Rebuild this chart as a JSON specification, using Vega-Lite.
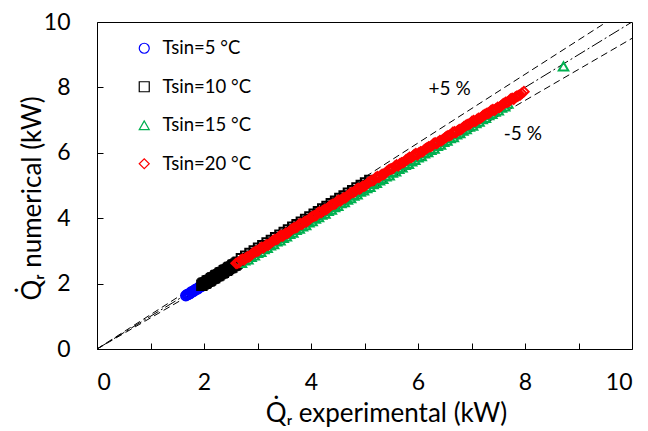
{
  "$schema": "https://vega.github.io/schema/vega-lite/v6.json",
  "width": 535,
  "height": 327,
  "autosize": {"type": "none"},
  "padding": {"left": 97, "top": 22, "right": 16, "bottom": 82},
  "background": "white",
  "config": {
    "font": "Lato",
    "view": {"stroke": "black", "strokeWidth": 1},
    "axis": {"grid": false, "domain": false, "tickColor": "black", "labelColor": "black", "titleColor": "black", "labelFont": "Lato", "titleFont": "Lato", "labelFontSize": 23, "titleFontSize": 26, "titleFontWeight": "normal", "tickSize": -6}
  },
  "datasets": {
    "pts": [
      {"s":"Tsin=5 °C","x":1.66,"y":1.63},{"s":"Tsin=5 °C","x":1.70,"y":1.67},{"s":"Tsin=5 °C","x":1.74,"y":1.70},{"s":"Tsin=5 °C","x":1.78,"y":1.75},{"s":"Tsin=5 °C","x":1.82,"y":1.79},{"s":"Tsin=5 °C","x":1.86,"y":1.83},{"s":"Tsin=5 °C","x":1.90,"y":1.87},{"s":"Tsin=5 °C","x":1.94,"y":1.91},{"s":"Tsin=5 °C","x":1.98,"y":1.95},
      {"s":"Tsin=5 °C","x":1.68,"y":1.66},{"s":"Tsin=5 °C","x":1.72,"y":1.68},{"s":"Tsin=5 °C","x":1.76,"y":1.74},{"s":"Tsin=5 °C","x":1.80,"y":1.76},{"s":"Tsin=5 °C","x":1.84,"y":1.82},{"s":"Tsin=5 °C","x":1.88,"y":1.84},{"s":"Tsin=5 °C","x":1.92,"y":1.90},{"s":"Tsin=5 °C","x":1.96,"y":1.92},
      {"s":"Tsin=10 °C","x":1.96,"y":1.95},{"s":"Tsin=10 °C","x":2.00,"y":2.01},{"s":"Tsin=10 °C","x":2.04,"y":2.03},{"s":"Tsin=10 °C","x":2.08,"y":2.09},{"s":"Tsin=10 °C","x":2.12,"y":2.11},{"s":"Tsin=10 °C","x":2.16,"y":2.17},{"s":"Tsin=10 °C","x":2.20,"y":2.19},{"s":"Tsin=10 °C","x":2.24,"y":2.25},{"s":"Tsin=10 °C","x":2.28,"y":2.27},{"s":"Tsin=10 °C","x":2.32,"y":2.33},{"s":"Tsin=10 °C","x":2.36,"y":2.35},{"s":"Tsin=10 °C","x":2.40,"y":2.41},{"s":"Tsin=10 °C","x":2.44,"y":2.43},{"s":"Tsin=10 °C","x":2.48,"y":2.49},{"s":"Tsin=10 °C","x":2.52,"y":2.51},{"s":"Tsin=10 °C","x":2.56,"y":2.57},{"s":"Tsin=10 °C","x":2.60,"y":2.60},{"s":"Tsin=10 °C","x":2.64,"y":2.65},
      {"s":"Tsin=10 °C","x":1.98,"y":1.99},{"s":"Tsin=10 °C","x":2.02,"y":2.01},{"s":"Tsin=10 °C","x":2.06,"y":2.07},{"s":"Tsin=10 °C","x":2.10,"y":2.09},{"s":"Tsin=10 °C","x":2.14,"y":2.15},{"s":"Tsin=10 °C","x":2.18,"y":2.17},{"s":"Tsin=10 °C","x":2.22,"y":2.23},{"s":"Tsin=10 °C","x":2.26,"y":2.25},{"s":"Tsin=10 °C","x":2.30,"y":2.31},{"s":"Tsin=10 °C","x":2.34,"y":2.33},{"s":"Tsin=10 °C","x":2.38,"y":2.39},{"s":"Tsin=10 °C","x":2.42,"y":2.41},{"s":"Tsin=10 °C","x":2.46,"y":2.47},{"s":"Tsin=10 °C","x":2.50,"y":2.49},{"s":"Tsin=10 °C","x":2.54,"y":2.55},{"s":"Tsin=10 °C","x":2.58,"y":2.57},{"s":"Tsin=10 °C","x":2.62,"y":2.63},
      {"s":"Tsin=10 °C","x":2.70,"y":2.76},{"s":"Tsin=10 °C","x":2.78,"y":2.84},{"s":"Tsin=10 °C","x":2.86,"y":2.92},{"s":"Tsin=10 °C","x":2.94,"y":3.00},{"s":"Tsin=10 °C","x":3.02,"y":3.08},{"s":"Tsin=10 °C","x":3.10,"y":3.16},{"s":"Tsin=10 °C","x":3.18,"y":3.24},{"s":"Tsin=10 °C","x":3.26,"y":3.32},{"s":"Tsin=10 °C","x":3.34,"y":3.40},{"s":"Tsin=10 °C","x":3.42,"y":3.48},{"s":"Tsin=10 °C","x":3.50,"y":3.56},{"s":"Tsin=10 °C","x":3.58,"y":3.64},{"s":"Tsin=10 °C","x":3.66,"y":3.72},{"s":"Tsin=10 °C","x":3.74,"y":3.80},{"s":"Tsin=10 °C","x":3.82,"y":3.88},{"s":"Tsin=10 °C","x":3.90,"y":3.96},{"s":"Tsin=10 °C","x":3.98,"y":4.04},{"s":"Tsin=10 °C","x":4.06,"y":4.12},{"s":"Tsin=10 °C","x":4.14,"y":4.20},{"s":"Tsin=10 °C","x":4.22,"y":4.28},{"s":"Tsin=10 °C","x":4.30,"y":4.36},{"s":"Tsin=10 °C","x":4.38,"y":4.44},{"s":"Tsin=10 °C","x":4.46,"y":4.52},{"s":"Tsin=10 °C","x":4.54,"y":4.60},{"s":"Tsin=10 °C","x":4.62,"y":4.68},{"s":"Tsin=10 °C","x":4.70,"y":4.76},{"s":"Tsin=10 °C","x":4.78,"y":4.84},{"s":"Tsin=10 °C","x":4.86,"y":4.92},{"s":"Tsin=10 °C","x":4.94,"y":5.00},{"s":"Tsin=10 °C","x":5.02,"y":5.08},{"s":"Tsin=10 °C","x":5.10,"y":5.15},
      {"s":"Tsin=15 °C","x":2.70,"y":2.63},{"s":"Tsin=15 °C","x":2.76,"y":2.71},{"s":"Tsin=15 °C","x":2.82,"y":2.74},{"s":"Tsin=15 °C","x":2.88,"y":2.82},{"s":"Tsin=15 °C","x":2.94,"y":2.86},{"s":"Tsin=15 °C","x":3.00,"y":2.94},{"s":"Tsin=15 °C","x":3.06,"y":2.97},{"s":"Tsin=15 °C","x":3.12,"y":3.05},{"s":"Tsin=15 °C","x":3.18,"y":3.09},{"s":"Tsin=15 °C","x":3.24,"y":3.17},{"s":"Tsin=15 °C","x":3.30,"y":3.21},{"s":"Tsin=15 °C","x":3.36,"y":3.29},{"s":"Tsin=15 °C","x":3.42,"y":3.32},{"s":"Tsin=15 °C","x":3.48,"y":3.40},{"s":"Tsin=15 °C","x":3.54,"y":3.44},{"s":"Tsin=15 °C","x":3.60,"y":3.52},{"s":"Tsin=15 °C","x":3.66,"y":3.56},{"s":"Tsin=15 °C","x":3.72,"y":3.64},{"s":"Tsin=15 °C","x":3.78,"y":3.68},{"s":"Tsin=15 °C","x":3.84,"y":3.75},{"s":"Tsin=15 °C","x":3.90,"y":3.79},{"s":"Tsin=15 °C","x":3.96,"y":3.87},{"s":"Tsin=15 °C","x":4.02,"y":3.91},{"s":"Tsin=15 °C","x":4.08,"y":3.99},{"s":"Tsin=15 °C","x":4.14,"y":4.03},{"s":"Tsin=15 °C","x":4.20,"y":4.11},{"s":"Tsin=15 °C","x":4.26,"y":4.14},{"s":"Tsin=15 °C","x":4.32,"y":4.22},{"s":"Tsin=15 °C","x":4.38,"y":4.26},{"s":"Tsin=15 °C","x":4.44,"y":4.34},{"s":"Tsin=15 °C","x":4.50,"y":4.38},{"s":"Tsin=15 °C","x":4.56,"y":4.46},{"s":"Tsin=15 °C","x":4.62,"y":4.49},{"s":"Tsin=15 °C","x":4.68,"y":4.57},{"s":"Tsin=15 °C","x":4.74,"y":4.61},{"s":"Tsin=15 °C","x":4.80,"y":4.69},{"s":"Tsin=15 °C","x":4.86,"y":4.73},{"s":"Tsin=15 °C","x":4.92,"y":4.81},{"s":"Tsin=15 °C","x":4.98,"y":4.85},{"s":"Tsin=15 °C","x":5.04,"y":4.92},{"s":"Tsin=15 °C","x":5.10,"y":4.96},{"s":"Tsin=15 °C","x":5.16,"y":5.04},{"s":"Tsin=15 °C","x":5.22,"y":5.08},{"s":"Tsin=15 °C","x":5.28,"y":5.16},{"s":"Tsin=15 °C","x":5.34,"y":5.20},{"s":"Tsin=15 °C","x":5.40,"y":5.28},{"s":"Tsin=15 °C","x":5.46,"y":5.31},{"s":"Tsin=15 °C","x":5.52,"y":5.39},{"s":"Tsin=15 °C","x":5.58,"y":5.43},{"s":"Tsin=15 °C","x":5.64,"y":5.51},{"s":"Tsin=15 °C","x":5.70,"y":5.55},{"s":"Tsin=15 °C","x":5.76,"y":5.63},{"s":"Tsin=15 °C","x":5.82,"y":5.66},{"s":"Tsin=15 °C","x":5.88,"y":5.74},{"s":"Tsin=15 °C","x":5.94,"y":5.78},{"s":"Tsin=15 °C","x":6.00,"y":5.86},{"s":"Tsin=15 °C","x":6.06,"y":5.90},{"s":"Tsin=15 °C","x":6.12,"y":5.98},{"s":"Tsin=15 °C","x":6.18,"y":6.02},{"s":"Tsin=15 °C","x":6.24,"y":6.09},{"s":"Tsin=15 °C","x":6.30,"y":6.13},{"s":"Tsin=15 °C","x":6.36,"y":6.21},{"s":"Tsin=15 °C","x":6.42,"y":6.25},{"s":"Tsin=15 °C","x":6.48,"y":6.33},{"s":"Tsin=15 °C","x":6.54,"y":6.37},{"s":"Tsin=15 °C","x":6.60,"y":6.45},{"s":"Tsin=15 °C","x":6.66,"y":6.48},{"s":"Tsin=15 °C","x":6.72,"y":6.56},{"s":"Tsin=15 °C","x":6.78,"y":6.60},{"s":"Tsin=15 °C","x":6.84,"y":6.68},{"s":"Tsin=15 °C","x":6.90,"y":6.72},{"s":"Tsin=15 °C","x":6.96,"y":6.80},{"s":"Tsin=15 °C","x":7.02,"y":6.83},{"s":"Tsin=15 °C","x":7.08,"y":6.91},{"s":"Tsin=15 °C","x":7.14,"y":6.95},{"s":"Tsin=15 °C","x":7.20,"y":7.03},{"s":"Tsin=15 °C","x":7.26,"y":7.07},{"s":"Tsin=15 °C","x":7.32,"y":7.15},{"s":"Tsin=15 °C","x":7.38,"y":7.19},{"s":"Tsin=15 °C","x":7.44,"y":7.26},{"s":"Tsin=15 °C","x":7.50,"y":7.30},{"s":"Tsin=15 °C","x":7.56,"y":7.38},{"s":"Tsin=15 °C","x":7.62,"y":7.42},{"s":"Tsin=15 °C","x":7.68,"y":7.50},{"s":"Tsin=15 °C","x":8.72,"y":8.64},
      {"s":"Tsin=20 °C","x":2.60,"y":2.62},{"s":"Tsin=20 °C","x":2.66,"y":2.65},{"s":"Tsin=20 °C","x":2.72,"y":2.75},{"s":"Tsin=20 °C","x":2.78,"y":2.78},{"s":"Tsin=20 °C","x":2.84,"y":2.82},{"s":"Tsin=20 °C","x":2.90,"y":2.91},{"s":"Tsin=20 °C","x":2.96,"y":2.98},{"s":"Tsin=20 °C","x":3.02,"y":3.01},{"s":"Tsin=20 °C","x":3.08,"y":3.11},{"s":"Tsin=20 °C","x":3.14,"y":3.14},{"s":"Tsin=20 °C","x":3.20,"y":3.18},{"s":"Tsin=20 °C","x":3.26,"y":3.27},{"s":"Tsin=20 °C","x":3.32,"y":3.34},{"s":"Tsin=20 °C","x":3.38,"y":3.37},{"s":"Tsin=20 °C","x":3.44,"y":3.47},{"s":"Tsin=20 °C","x":3.50,"y":3.50},{"s":"Tsin=20 °C","x":3.56,"y":3.54},{"s":"Tsin=20 °C","x":3.62,"y":3.63},{"s":"Tsin=20 °C","x":3.68,"y":3.70},{"s":"Tsin=20 °C","x":3.74,"y":3.73},{"s":"Tsin=20 °C","x":3.80,"y":3.83},{"s":"Tsin=20 °C","x":3.86,"y":3.86},{"s":"Tsin=20 °C","x":3.92,"y":3.90},{"s":"Tsin=20 °C","x":3.98,"y":3.99},{"s":"Tsin=20 °C","x":4.04,"y":4.06},{"s":"Tsin=20 °C","x":4.10,"y":4.09},{"s":"Tsin=20 °C","x":4.16,"y":4.19},{"s":"Tsin=20 °C","x":4.22,"y":4.22},{"s":"Tsin=20 °C","x":4.28,"y":4.26},{"s":"Tsin=20 °C","x":4.34,"y":4.35},{"s":"Tsin=20 °C","x":4.40,"y":4.42},{"s":"Tsin=20 °C","x":4.46,"y":4.45},{"s":"Tsin=20 °C","x":4.52,"y":4.55},{"s":"Tsin=20 °C","x":4.58,"y":4.58},{"s":"Tsin=20 °C","x":4.64,"y":4.62},{"s":"Tsin=20 °C","x":4.70,"y":4.71},{"s":"Tsin=20 °C","x":4.76,"y":4.78},{"s":"Tsin=20 °C","x":4.82,"y":4.81},{"s":"Tsin=20 °C","x":4.88,"y":4.91},{"s":"Tsin=20 °C","x":4.94,"y":4.94},{"s":"Tsin=20 °C","x":5.00,"y":4.98},{"s":"Tsin=20 °C","x":5.06,"y":5.07},{"s":"Tsin=20 °C","x":5.12,"y":5.14},{"s":"Tsin=20 °C","x":5.18,"y":5.17},{"s":"Tsin=20 °C","x":5.24,"y":5.27},{"s":"Tsin=20 °C","x":5.30,"y":5.30},{"s":"Tsin=20 °C","x":5.36,"y":5.34},{"s":"Tsin=20 °C","x":5.42,"y":5.43},{"s":"Tsin=20 °C","x":5.48,"y":5.50},{"s":"Tsin=20 °C","x":5.54,"y":5.53},{"s":"Tsin=20 °C","x":5.60,"y":5.63},{"s":"Tsin=20 °C","x":5.66,"y":5.66},{"s":"Tsin=20 °C","x":5.72,"y":5.70},{"s":"Tsin=20 °C","x":5.78,"y":5.79},{"s":"Tsin=20 °C","x":5.84,"y":5.86},{"s":"Tsin=20 °C","x":5.90,"y":5.89},{"s":"Tsin=20 °C","x":5.96,"y":5.97},{"s":"Tsin=20 °C","x":6.02,"y":6.00},{"s":"Tsin=20 °C","x":6.08,"y":6.03},{"s":"Tsin=20 °C","x":6.14,"y":6.12},{"s":"Tsin=20 °C","x":6.20,"y":6.18},{"s":"Tsin=20 °C","x":6.26,"y":6.21},{"s":"Tsin=20 °C","x":6.32,"y":6.30},{"s":"Tsin=20 °C","x":6.38,"y":6.33},{"s":"Tsin=20 °C","x":6.44,"y":6.37},{"s":"Tsin=20 °C","x":6.50,"y":6.45},{"s":"Tsin=20 °C","x":6.56,"y":6.52},{"s":"Tsin=20 °C","x":6.62,"y":6.55},{"s":"Tsin=20 °C","x":6.68,"y":6.64},{"s":"Tsin=20 °C","x":6.74,"y":6.67},{"s":"Tsin=20 °C","x":6.80,"y":6.71},{"s":"Tsin=20 °C","x":6.86,"y":6.80},{"s":"Tsin=20 °C","x":6.92,"y":6.86},{"s":"Tsin=20 °C","x":6.98,"y":6.89},{"s":"Tsin=20 °C","x":7.04,"y":6.98},{"s":"Tsin=20 °C","x":7.10,"y":7.01},{"s":"Tsin=20 °C","x":7.16,"y":7.05},{"s":"Tsin=20 °C","x":7.22,"y":7.14},{"s":"Tsin=20 °C","x":7.28,"y":7.20},{"s":"Tsin=20 °C","x":7.34,"y":7.23},{"s":"Tsin=20 °C","x":7.40,"y":7.32},{"s":"Tsin=20 °C","x":7.46,"y":7.35},{"s":"Tsin=20 °C","x":7.52,"y":7.39},{"s":"Tsin=20 °C","x":7.58,"y":7.48},{"s":"Tsin=20 °C","x":7.64,"y":7.54},{"s":"Tsin=20 °C","x":7.70,"y":7.57},{"s":"Tsin=20 °C","x":7.76,"y":7.66},{"s":"Tsin=20 °C","x":7.82,"y":7.70},{"s":"Tsin=20 °C","x":7.88,"y":7.75},{"s":"Tsin=20 °C","x":7.94,"y":7.82},{"s":"Tsin=20 °C","x":7.98,"y":7.87},
      {"s":"Tsin=20 °C","x":2.63,"y":2.63},{"s":"Tsin=20 °C","x":2.69,"y":2.72},{"s":"Tsin=20 °C","x":2.75,"y":2.73},{"s":"Tsin=20 °C","x":2.81,"y":2.82},{"s":"Tsin=20 °C","x":2.87,"y":2.86},{"s":"Tsin=20 °C","x":2.93,"y":2.95},{"s":"Tsin=20 °C","x":2.99,"y":2.99},{"s":"Tsin=20 °C","x":3.05,"y":3.08},{"s":"Tsin=20 °C","x":3.11,"y":3.09},{"s":"Tsin=20 °C","x":3.17,"y":3.18},{"s":"Tsin=20 °C","x":3.23,"y":3.22},{"s":"Tsin=20 °C","x":3.29,"y":3.31},{"s":"Tsin=20 °C","x":3.35,"y":3.35},{"s":"Tsin=20 °C","x":3.41,"y":3.44},{"s":"Tsin=20 °C","x":3.47,"y":3.45},{"s":"Tsin=20 °C","x":3.53,"y":3.54},{"s":"Tsin=20 °C","x":3.59,"y":3.58},{"s":"Tsin=20 °C","x":3.65,"y":3.67},{"s":"Tsin=20 °C","x":3.71,"y":3.71},{"s":"Tsin=20 °C","x":3.77,"y":3.80},{"s":"Tsin=20 °C","x":3.83,"y":3.81},{"s":"Tsin=20 °C","x":3.89,"y":3.90},{"s":"Tsin=20 °C","x":3.95,"y":3.94},{"s":"Tsin=20 °C","x":4.01,"y":4.03},{"s":"Tsin=20 °C","x":4.07,"y":4.07},{"s":"Tsin=20 °C","x":4.13,"y":4.16},{"s":"Tsin=20 °C","x":4.19,"y":4.17},{"s":"Tsin=20 °C","x":4.25,"y":4.26},{"s":"Tsin=20 °C","x":4.31,"y":4.30},{"s":"Tsin=20 °C","x":4.37,"y":4.39},{"s":"Tsin=20 °C","x":4.43,"y":4.43},{"s":"Tsin=20 °C","x":4.49,"y":4.52},{"s":"Tsin=20 °C","x":4.55,"y":4.53},{"s":"Tsin=20 °C","x":4.61,"y":4.62},{"s":"Tsin=20 °C","x":4.67,"y":4.66},{"s":"Tsin=20 °C","x":4.73,"y":4.75},{"s":"Tsin=20 °C","x":4.79,"y":4.79},{"s":"Tsin=20 °C","x":4.85,"y":4.88},{"s":"Tsin=20 °C","x":4.91,"y":4.89},{"s":"Tsin=20 °C","x":4.97,"y":4.98},{"s":"Tsin=20 °C","x":5.03,"y":5.02},{"s":"Tsin=20 °C","x":5.09,"y":5.11},{"s":"Tsin=20 °C","x":5.15,"y":5.15},{"s":"Tsin=20 °C","x":5.21,"y":5.24},{"s":"Tsin=20 °C","x":5.27,"y":5.25},{"s":"Tsin=20 °C","x":5.33,"y":5.34},{"s":"Tsin=20 °C","x":5.39,"y":5.38},{"s":"Tsin=20 °C","x":5.45,"y":5.47},{"s":"Tsin=20 °C","x":5.51,"y":5.51},{"s":"Tsin=20 °C","x":5.57,"y":5.59},{"s":"Tsin=20 °C","x":5.63,"y":5.60},{"s":"Tsin=20 °C","x":5.69,"y":5.69},{"s":"Tsin=20 °C","x":5.75,"y":5.73},{"s":"Tsin=20 °C","x":5.81,"y":5.81},{"s":"Tsin=20 °C","x":5.87,"y":5.85},{"s":"Tsin=20 °C","x":5.93,"y":5.94},{"s":"Tsin=20 °C","x":5.99,"y":5.94},{"s":"Tsin=20 °C","x":6.05,"y":6.03},{"s":"Tsin=20 °C","x":6.11,"y":6.07},{"s":"Tsin=20 °C","x":6.17,"y":6.15},{"s":"Tsin=20 °C","x":6.23,"y":6.19},{"s":"Tsin=20 °C","x":6.29,"y":6.28},{"s":"Tsin=20 °C","x":6.35,"y":6.28},{"s":"Tsin=20 °C","x":6.41,"y":6.37},{"s":"Tsin=20 °C","x":6.47,"y":6.41},{"s":"Tsin=20 °C","x":6.53,"y":6.49},{"s":"Tsin=20 °C","x":6.59,"y":6.53},{"s":"Tsin=20 °C","x":6.65,"y":6.62},{"s":"Tsin=20 °C","x":6.71,"y":6.62},{"s":"Tsin=20 °C","x":6.77,"y":6.71},{"s":"Tsin=20 °C","x":6.83,"y":6.75},{"s":"Tsin=20 °C","x":6.89,"y":6.83},{"s":"Tsin=20 °C","x":6.95,"y":6.87},{"s":"Tsin=20 °C","x":7.01,"y":6.96},{"s":"Tsin=20 °C","x":7.07,"y":6.96},{"s":"Tsin=20 °C","x":7.13,"y":7.05},{"s":"Tsin=20 °C","x":7.19,"y":7.09},{"s":"Tsin=20 °C","x":7.25,"y":7.17},{"s":"Tsin=20 °C","x":7.31,"y":7.21},{"s":"Tsin=20 °C","x":7.37,"y":7.30},{"s":"Tsin=20 °C","x":7.43,"y":7.30},{"s":"Tsin=20 °C","x":7.49,"y":7.39},{"s":"Tsin=20 °C","x":7.55,"y":7.43},{"s":"Tsin=20 °C","x":7.61,"y":7.51},{"s":"Tsin=20 °C","x":7.67,"y":7.55},{"s":"Tsin=20 °C","x":7.73,"y":7.64},{"s":"Tsin=20 °C","x":7.79,"y":7.64},{"s":"Tsin=20 °C","x":7.85,"y":7.73},{"s":"Tsin=20 °C","x":7.91,"y":7.77}
    ],
    "lines": [
      {"l":"eq","x":0,"y":0},{"l":"eq","x":10,"y":10},
      {"l":"p5","x":0,"y":0},{"l":"p5","x":9.524,"y":10},
      {"l":"m5","x":0,"y":0},{"l":"m5","x":10,"y":9.5}
    ],
    "notes": [
      {"t":"+5 %","x":6.59,"y":7.94},
      {"t":"-5 %","x":7.96,"y":6.56}
    ]
  },
  "layer": [
    {
      "data": {"name": "lines"},
      "mark": {"type": "line", "color": "black", "strokeWidth": 1, "clip": true},
      "encoding": {
        "x": {"field": "x", "type": "quantitative", "scale": {"domain": [0, 10], "nice": false},
              "axis": {"values": [0,1,2,3,4,5,6,7,8,9,10], "labelExpr": "datum.value % 2 == 0 ? datum.label : ''", "labelPadding": 28, "title": "Q̇ᵣ experimental (kW)", "titleX": 289, "titleY": 72, "titleBaseline": "alphabetic", "titleAlign": "center"}},
        "y": {"field": "y", "type": "quantitative", "scale": {"domain": [0, 10], "nice": false},
              "axis": {"values": [0,1,2,3,4,5,6,7,8,9,10], "labelExpr": "datum.value % 2 == 0 ? datum.label : ''", "labelPadding": 33, "title": "Q̇ᵣ numerical (kW)", "titleX": -57, "titleY": 176, "titleAngle": -90, "titleBaseline": "alphabetic", "titleAlign": "center"}},
        "detail": {"field": "l"},
        "strokeDash": {"field": "l", "type": "nominal", "scale": {"domain": ["eq","p5","m5"], "range": [[12,3,2,3],[7,4],[7,4]]}, "legend": null}
      }
    },
    {
      "data": {"name": "pts"},
      "mark": {"type": "point", "filled": false, "size": 90, "strokeWidth": 2, "opacity": 1},
      "encoding": {
        "x": {"field": "x", "type": "quantitative"},
        "y": {"field": "y", "type": "quantitative"},
        "color": {"field": "s", "type": "nominal", "scale": {"domain": ["Tsin=5 °C","Tsin=10 °C","Tsin=15 °C","Tsin=20 °C"], "range": ["#0000FF","#000000","#00B050","#FF0000"]}, "title": null,
          "legend": {"orient": "none", "legendX": 38, "legendY": 17, "labelFontSize": 18.5, "labelFont": "Lato", "labelColor": "black", "rowPadding": 19.5, "symbolSize": 100, "symbolStrokeWidth": 1.2, "labelOffset": 9, "symbolOffset": 0}},
        "shape": {"field": "s", "type": "nominal", "scale": {"domain": ["Tsin=5 °C","Tsin=10 °C","Tsin=15 °C","Tsin=20 °C"], "range": ["circle","square","triangle-up","diamond"]}, "title": null}
      }
    },
    {
      "data": {"name": "notes"},
      "mark": {"type": "text", "fontSize": 19, "font": "Lato", "color": "black", "align": "center", "baseline": "middle"},
      "encoding": {
        "x": {"field": "x", "type": "quantitative"},
        "y": {"field": "y", "type": "quantitative"},
        "text": {"field": "t"}
      }
    }
  ]
}
